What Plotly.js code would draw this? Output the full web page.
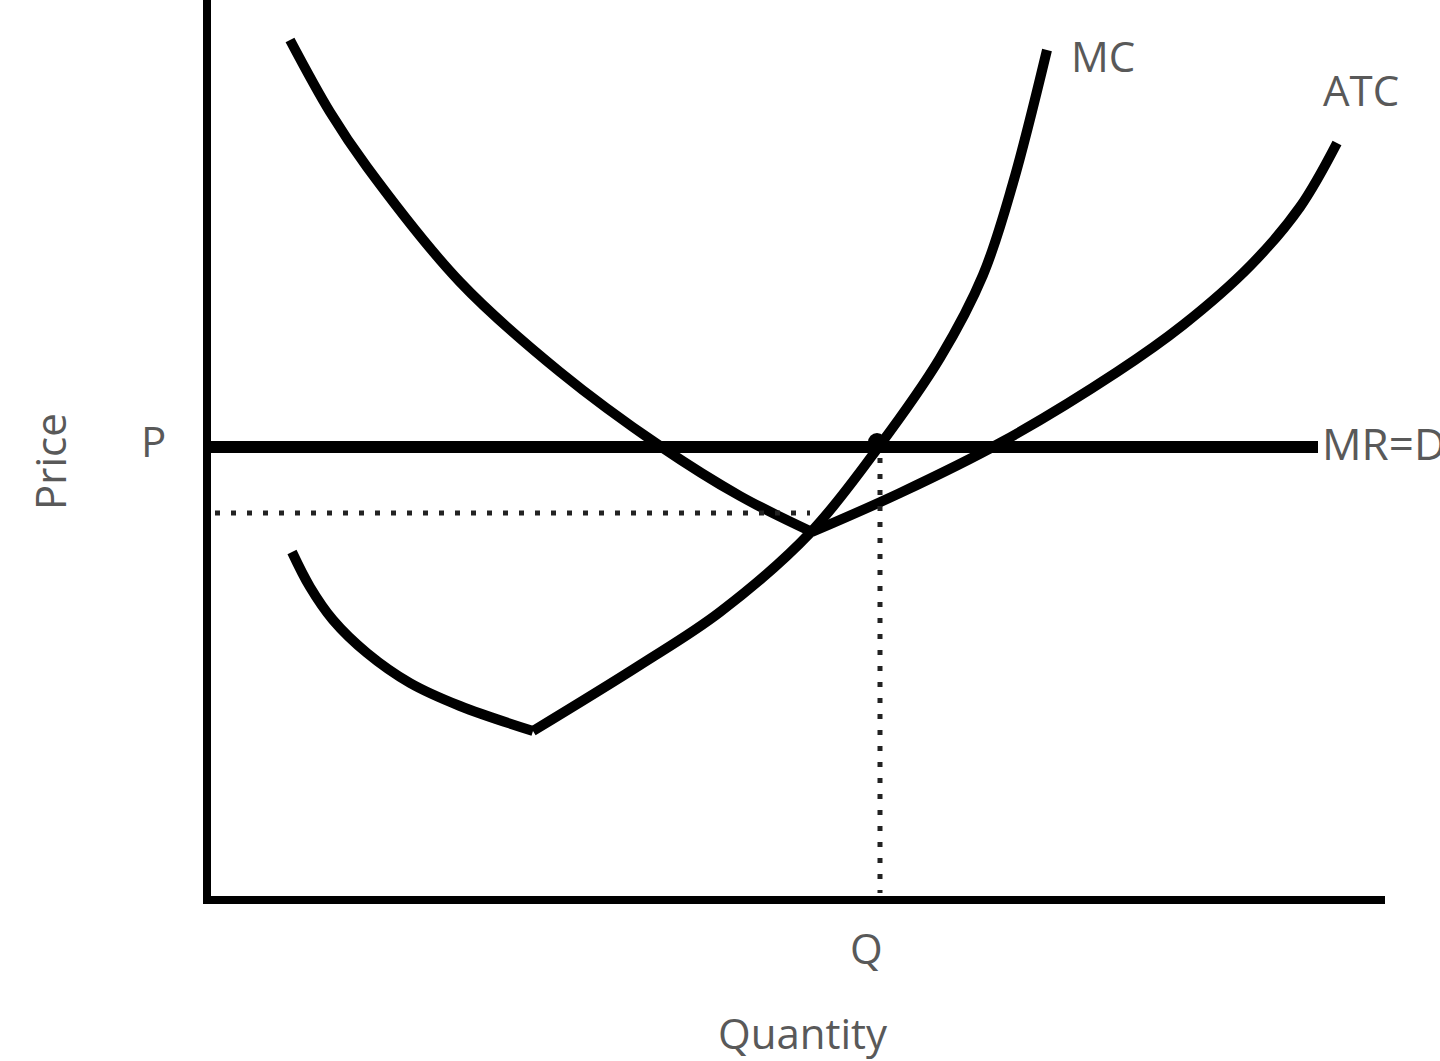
<!DOCTYPE html>
<html>
<head>
<meta charset="utf-8">
<script src="https://cdn.plot.ly/plotly-3.0.1.min.js"></script>
<style>html,body{margin:0;padding:0;background:#fff;overflow:hidden}#chart{width:1440px;height:1061px}</style>
</head>
<body>
<div id="chart"></div>
<script>
// ATC curve (quantity, price), two branches meeting at the minimum
const atcQuantityLeft = [83, 123, 160, 253, 353, 453, 533, 605];
const atcPriceLeft    = [860, 788, 733, 618, 528, 454, 404, 368];
const atcQuantityRight = [605, 693, 793, 910, 976, 1043, 1093, 1130];
const atcPriceRight    = [368, 407, 457, 528, 575, 634, 693, 757];

// MC curve, two branches meeting at its kink
const mcQuantityLeft = [85, 103, 126, 160, 203, 253, 326];
const mcPriceLeft    = [348, 313, 280, 247, 217, 194, 169];
const mcQuantityRight = [326, 433, 513, 603, 673, 733, 776, 806, 840];
const mcPriceRight    = [169, 235, 288, 367, 455, 542, 625, 717, 850];

// MR = D horizontal line
const mrQuantity = [0, 1111];
const marketPrice = 453;           // P
const outputQuantity = 673;        // Q
const atcAtQLevel = 387;           // dotted horizontal level
const dottedHQuantity = [8, 603];
const dottedVPrice = [442, 7];

const labels = {mc: 'MC', atc: 'ATC', mr: 'MR=D', p: 'P', q: 'Q', xTitle: 'Quantity', yTitle: 'Price'};

function joinBranches(a, b) { return a.concat([null], b); }

const lineColor = '#000000';
const textColor = '#595959';
const fontFamily = '"Open Sans", "Noto Sans", sans-serif';

const traces = [
  {
    x: joinBranches(atcQuantityLeft, atcQuantityRight),
    y: joinBranches(atcPriceLeft, atcPriceRight),
    mode: 'lines', line: {color: lineColor, width: 10, shape: 'spline', smoothing: 1},
    connectgaps: false, hoverinfo: 'skip', name: 'ATC'
  },
  {
    x: joinBranches(mcQuantityLeft, mcQuantityRight),
    y: joinBranches(mcPriceLeft, mcPriceRight),
    mode: 'lines', line: {color: lineColor, width: 10, shape: 'spline', smoothing: 1},
    connectgaps: false, hoverinfo: 'skip', name: 'MC'
  },
  {
    x: mrQuantity, y: mrQuantity.map(() => marketPrice),
    mode: 'lines', line: {color: lineColor, width: 12}, hoverinfo: 'skip', name: 'MR=D'
  },
  {
    x: dottedHQuantity, y: dottedHQuantity.map(() => atcAtQLevel),
    mode: 'lines', line: {color: '#222222', width: 5, dash: '5px,11px'}, hoverinfo: 'skip'
  },
  {
    x: dottedVPrice.map(() => outputQuantity), y: dottedVPrice,
    mode: 'lines', line: {color: '#222222', width: 5, dash: '5px,11px'}, hoverinfo: 'skip'
  },
  {
    x: [outputQuantity - 3], y: [marketPrice + 5],
    mode: 'markers', marker: {color: lineColor, size: 18}, hoverinfo: 'skip', cliponaxis: false
  }
];

const textFont = {family: fontFamily, size: 42, color: textColor};

const layout = {
  width: 1440, height: 1061,
  margin: {l: 211, r: 55, t: 0, b: 165, pad: 0},
  paper_bgcolor: '#ffffff', plot_bgcolor: '#ffffff',
  showlegend: false,
  font: {family: fontFamily},
  xaxis: {range: [4, 1178], showgrid: false, zeroline: false, showticklabels: false, ticks: '',
          showline: true, linecolor: lineColor, linewidth: 8, fixedrange: true},
  yaxis: {range: [4, 900], showgrid: false, zeroline: false, showticklabels: false, ticks: '',
          showline: true, linecolor: lineColor, linewidth: 8, fixedrange: true},
  annotations: [
    {text: labels.mc, xref: 'x', yref: 'y', x: 896, y: 845, showarrow: false, font: textFont, xanchor: 'center', yanchor: 'middle'},
    {text: labels.atc, xref: 'x', yref: 'y', x: 1154, y: 811, showarrow: false, font: textFont, xanchor: 'center', yanchor: 'middle'},
    {text: labels.mr, xref: 'x', yref: 'y', x: 1113, y: 457, showarrow: false, font: {family: fontFamily, size: 44, color: textColor}, xanchor: 'left', yanchor: 'middle'},
    {text: labels.p, xref: 'paper', yref: 'y', x: -0.0494, y: marketPrice, yshift: 7, showarrow: false, font: textFont, xanchor: 'center', yanchor: 'middle'},
    {text: labels.q, xref: 'x', yref: 'paper', x: outputQuantity, xshift: -14, y: -0.058, showarrow: false, font: textFont, xanchor: 'center', yanchor: 'middle'},
    {text: labels.yTitle, xref: 'paper', yref: 'paper', x: -0.1371, y: 0.4844, textangle: -90, showarrow: false, font: textFont, xanchor: 'center', yanchor: 'middle'},
    {text: labels.xTitle, xref: 'paper', yref: 'paper', x: 0.5043, y: -0.1518, showarrow: false, font: textFont, xanchor: 'center', yanchor: 'middle'}
  ]
};

Plotly.newPlot('chart', traces, layout, {displayModeBar: false, staticPlot: true});
</script>
</body>
</html>
